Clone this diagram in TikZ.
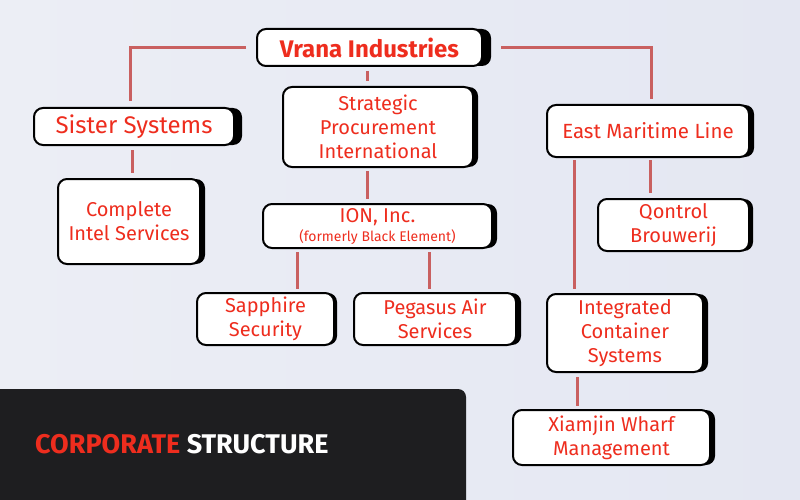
\documentclass[tikz,border=0pt]{standalone}
\usepackage{fontspec}
\setmainfont{Fira Sans}
\usetikzlibrary{shadows}
\definecolor{txtred}{RGB}{238,45,30}
\definecolor{linkc}{RGB}{201,96,96}
\definecolor{bgA}{RGB}{236,238,245}
\definecolor{bgB}{RGB}{228,231,242}
\definecolor{panelc}{RGB}{30,30,32}
\tikzset{
  box/.style={draw=black, line width=2pt, fill=white, rounded corners=9pt,
    text=txtred, align=center, inner sep=0pt,
    font=\fontsize{20}{24}\selectfont},
  sh/.style={drop shadow={shadow xshift=#1pt, shadow yshift=0pt, opacity=1, fill=black}},
  link/.style={draw=linkc, line width=3pt}
}
\begin{document}
\begin{tikzpicture}[x=1pt,y=-1pt]
\shade[left color=bgA, right color=bgB] (0,0) rectangle (800,500);
\useasboundingbox (0,0) rectangle (800,500);
% dark panel
\fill[panelc] (0,500) -- (0,389) [rounded corners=8pt]-- (466,389) [sharp corners]-- (466,500) -- cycle;
\node[anchor=base west, inner sep=0pt, font=\bfseries\fontsize{27}{27}\selectfont] (title) at (35,453)
  {\textcolor{txtred}{CORPORATE} \textcolor{white}{STRUCTURE}};
% boxes
\node[box, sh=9, minimum width=225pt, minimum height=37pt, font=\bfseries\fontsize{24}{26}\selectfont] (vrana) at (369.5,47.5) {Vrana Industries};
\node[box, sh=8, minimum width=200pt, minimum height=37pt, font=\fontsize{24}{26}\selectfont] (sister) at (134,126.5) {Sister Systems};
\node[box, sh=5, minimum width=142pt, minimum height=85pt] (cis) at (129,221.5) {Complete\\Intel Services};
\node[box, sh=5, minimum width=190pt, minimum height=80pt] (spi) at (378,127) {Strategic\\Procurement\\International};
\node[box, sh=5, minimum width=229pt, minimum height=44pt] (ion) at (377.5,226) {ION, Inc.\\[-5pt]{\fontsize{14}{16}\selectfont(formerly Black Element)}};
\node[box, sh=3, minimum width=137pt, minimum height=52pt] (sap) at (265.5,319) {Sapphire\\Security};
\node[box, sh=5, minimum width=162pt, minimum height=52pt] (peg) at (435,319) {Pegasus Air\\Services};
\node[box, sh=5, minimum width=202pt, minimum height=52pt, font=\fontsize{20.5}{24}\selectfont] (eml) at (648,131) {East Maritime Line};
\node[box, sh=4, minimum width=151pt, minimum height=52pt] (qon) at (673.5,225) {Qontrol\\Brouwerij};
\node[box, sh=5, minimum width=156pt, minimum height=78pt] (ics) at (625,333) {Integrated\\Container\\Systems};
\node[box, sh=5, minimum width=197pt, minimum height=55pt] (xia) at (611.5,437.5) {Xiamjin Wharf\\Management};
% connectors
\draw[link, shorten <=10pt, shorten >=6pt] (vrana.west) -| (sister.north -| 130,0);
\draw[link, shorten <=18pt, shorten >=5pt] (vrana.east) -| (eml.north -| 651,0);
\draw[link, shorten <=4pt, shorten >=5pt] (vrana.south -| 367,0) -- (spi.north -| 367,0);
\draw[link, shorten <=3pt, shorten >=4pt] (spi.south -| 367,0) -- (ion.north -| 367,0);
\draw[link, shorten <=4pt, shorten >=5pt] (sister.south -| 132,0) -- (cis.north -| 132,0);
\draw[link, shorten <=3pt, shorten >=3pt] (ion.south -| 297,0) -- (sap.north -| 297,0);
\draw[link, shorten <=3pt, shorten >=3pt] (ion.south -| 429,0) -- (peg.north -| 429,0);
\draw[link, shorten <=2pt, shorten >=4pt] (eml.south -| 574,0) -- (ics.north -| 574,0);
\draw[link, shorten <=2pt, shorten >=5pt] (eml.south -| 650,0) -- (qon.north -| 650,0);
\draw[link, shorten <=4pt, shorten >=3pt] (ics.south -| 577,0) -- (xia.north -| 577,0);
\end{tikzpicture}
\end{document}
